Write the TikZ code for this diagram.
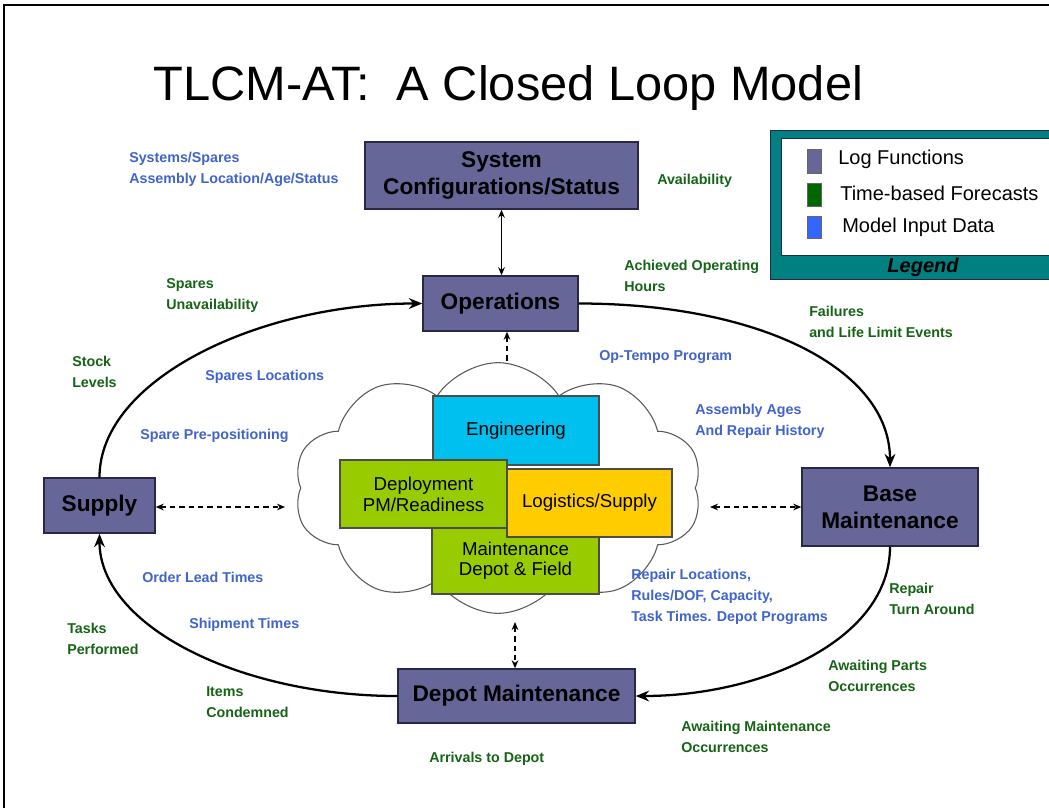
\documentclass[tikz,border=0pt]{standalone}
\usepackage{fontspec}
\setmainfont{Liberation Sans}
\usetikzlibrary{arrows.meta,shapes.symbols}
\definecolor{logfill}{RGB}{102,102,153}
\definecolor{logdraw}{RGB}{40,40,70}
\definecolor{teal2}{RGB}{0,128,128}
\definecolor{bluelab}{RGB}{64,100,204}
\definecolor{greenlab}{RGB}{22,100,22}
\definecolor{engcyan}{RGB}{0,192,240}
\definecolor{boxgreen}{RGB}{153,204,0}
\definecolor{boxgold}{RGB}{255,204,0}
\definecolor{fcgreen}{RGB}{0,102,0}
\definecolor{inblue}{RGB}{51,102,255}
\definecolor{cloudline}{RGB}{90,90,90}
\tikzset{
  logbox/.style={draw=logdraw,line width=1.1pt,fill=logfill,inner sep=0pt,align=center,
    font=\fontsize{17}{20.5}\selectfont\bfseries},
  inbox/.style={draw=black!70,line width=0.8pt,inner sep=0pt,align=center,
    font=\fontsize{14}{15.5}\selectfont},
  lab/.style={inner sep=0pt,anchor=west,align=left,font=\fontsize{10.7}{15.75}\selectfont\bfseries},
  bl/.style={lab,text=bluelab},
  gl/.style={lab,text=greenlab},
  loop/.style={line width=1.7pt,-{Stealth[length=10pt,width=8pt]}},
  dlink/.style={line width=0.9pt,dash pattern=on 4pt off 3pt,{Stealth[length=6pt,width=5pt]}-{Stealth[length=6pt,width=5pt]}},
  slink/.style={line width=0.9pt,{Stealth[length=6pt,width=5pt]}-{Stealth[length=6pt,width=5pt]}},
  legsq/.style={draw=black!60,line width=0.5pt,minimum width=10.5pt,inner sep=0pt},
  legtx/.style={inner sep=0pt,anchor=west,font=\fontsize{15}{18}\selectfont}
}
\begin{document}
\begin{tikzpicture}[x=0.75pt,y=-0.75pt]
\useasboundingbox (0,0) rectangle (1049,808);
\fill[white] (0,0) rectangle (1049,808);
% frame
\draw[line width=1.5pt] (4,808) -- (4,5) -- (1049,5);
% title
\node[anchor=base,inner sep=0pt] (title) at (508.5,100)
  {\resizebox{531.75pt}{26.25pt}{TLCM-AT:\ \ A Closed Loop Model}};
% legend
\node[draw=logdraw,line width=0.8pt,fill=teal2,minimum width=209.25pt,minimum height=111.75pt,inner sep=0pt,anchor=north west] (legout) at (770,130) {};
\node[draw=logdraw,line width=0.6pt,fill=white,minimum width=201pt,minimum height=87.75pt,inner sep=0pt,anchor=north west] (legin) at (781,138) {};
\node[font=\fontsize{15}{18}\selectfont\bfseries\itshape,inner sep=0pt] (legtitle) at (923,267) {Legend};
\node[legsq,fill=logfill,minimum height=18pt] (sq1) at (814,161) {};
\node[legsq,fill=fcgreen,minimum height=17.25pt] (sq2) at (814,194.5) {};
\node[legsq,fill=inblue,minimum height=16.5pt] (sq3) at (814,227) {};
\node[legtx] (lt1) at (838,159) {Log Functions};
\node[legtx] (lt2) at (840,193) {Time-based Forecasts};
\node[legtx] (lt3) at (842,227) {Model Input Data};
% main boxes
\node[logbox,minimum width=204.75pt,minimum height=50.25pt] (sys) at (501.5,175.5) {System\\Configurations/Status};
\node[logbox,minimum width=116.25pt,minimum height=41.25pt] (ops) at (500.5,303.5) {Operations};
\node[logbox,minimum width=83.25pt,minimum height=41.25pt] (sup) at (99.5,505.5) {Supply};
\node[logbox,minimum width=132pt,minimum height=58.5pt] (bm) at (890,507) {Base\\Maintenance};
\node[logbox,minimum width=177.75pt,minimum height=40.5pt] (dep) at (516.5,696) {Depot Maintenance};
% loop
\draw[loop] (sup.north) .. controls +(0,-98) and +(-163,0) .. (ops.west);
\draw[loop] (ops.east) .. controls +(182,0) and +(0,-98) .. (bm.north);
\draw[loop] (bm.south) .. controls +(0,94) and +(125,0) .. (dep.east);
\draw[loop] (dep.west) .. controls +(-158,0) and +(0,92) .. (sup.south);
% links
\coordinate (ct) at (507,382);
\coordinate (cl) at (285,507);
\coordinate (cr) at (710,507);
\coordinate (cd) at (515,622);
\draw[slink] (sys.south) -- (sys.south |- ops.north);
\draw[dlink] (ops.south -| ct) -- (ct);
\draw[dlink] (sup.east |- cl) -- (cl);
\draw[dlink] (cr) -- (bm.west |- cr);
\draw[dlink] (cd) -- (cd |- dep.north);
% cloud
\node[cloud,cloud puffs=10,cloud puff arc=115,cloud ignores aspect,draw=cloudline,line width=0.8pt,fill=white,
  minimum width=306pt,minimum height=188pt,inner sep=0pt] (cloud) at (498,488) {};
% inner boxes
\node[inbox,fill=engcyan,minimum width=124.5pt,minimum height=51.75pt] (eng) at (516,430.5) {Engineering};
\node[inbox,fill=boxgreen,minimum width=125.25pt,minimum height=50.25pt] (mnt) at (515.5,560.5) {Maintenance\\Depot \& Field};
\node[inbox,fill=boxgreen,minimum width=125.25pt,minimum height=51pt] (dpl) at (423.5,494) {Deployment\\PM/Readiness};
\node[inbox,fill=boxgold,minimum width=123.75pt,minimum height=51pt] (log) at (589.5,503) {Logistics/Supply};
% blue labels
\node[bl] (b1) at (129,169.5) {Systems/Spares\\Assembly Location/Age/Status};
\node[bl] (b2) at (205,377) {Spares Locations};
\node[bl] (b3) at (140,436) {Spare Pre-positioning};
\node[bl] (b4) at (599,357) {Op-Tempo Program};
\node[bl] (b5) at (695,421.5) {Assembly Ages\\And Repair History};
\node[bl] (b6) at (631,597) {Repair Locations,\\Rules/DOF, Capacity,\\Task Times. Depot Programs};
\node[bl] (b7) at (142,577) {Order Lead Times};
\node[bl] (b8) at (189,625) {Shipment Times};
% green labels
\node[gl] (g1) at (657,181) {Availability};
\node[gl] (g2) at (624,276) {Achieved Operating\\Hours};
\node[gl] (g3) at (809,321.5) {Failures\\and Life Limit Events};
\node[gl] (g4) at (166,295) {Spares\\Unavailability};
\node[gl] (g5) at (72,371.5) {Stock\\Levels};
\node[gl] (g6) at (889,598.5) {Repair\\Turn Around};
\node[gl] (g7) at (828,676) {Awaiting Parts\\Occurrences};
\node[gl] (g8) at (681,736.5) {Awaiting Maintenance\\Occurrences};
\node[gl] (g9) at (429,759) {Arrivals to Depot};
\node[gl] (g10) at (67,638.5) {Tasks\\Performed};
\node[gl] (g11) at (206,702.5) {Items\\Condemned};
\end{tikzpicture}
\end{document}
